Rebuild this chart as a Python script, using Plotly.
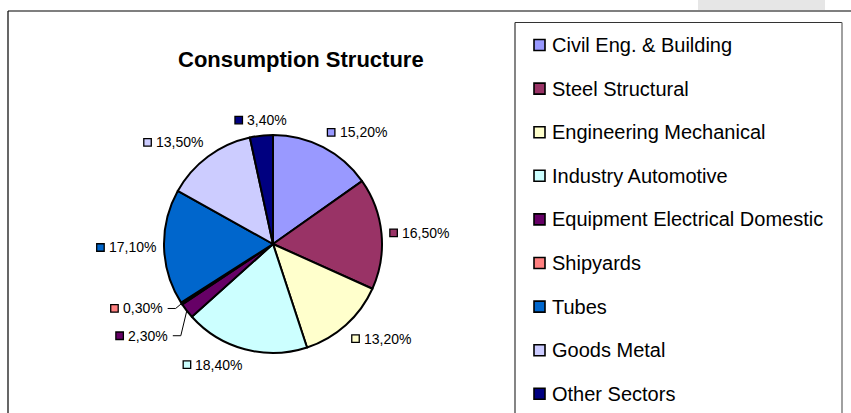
import math
import plotly.graph_objects as go

# ---------------- data ----------------
categories = [
    "Civil Eng. & Building",
    "Steel Structural",
    "Engineering Mechanical",
    "Industry Automotive",
    "Equipment Electrical Domestic",
    "Shipyards",
    "Tubes",
    "Goods Metal",
    "Other Sectors",
]
shares = [15.2, 16.5, 13.2, 18.4, 2.3, 0.3, 17.1, 13.5, 3.4]
title_text = "Consumption Structure"

# ---------------- style ----------------
colors = ["#9999FF", "#993366", "#FFFFCC", "#CCFFFF", "#660066",
          "#FF8080", "#0066CC", "#CCCCFF", "#000080"]
W, H = 851, 413
CX, CY, R = 273, 244, 109          # pie centre / radius in px
FONT = "Liberation Sans, Arial, sans-serif"
LBL_SIZE = 14
LEG_SIZE = 20
SQ, GAP = 9, 4
LABEL_R = R * 1.07
# labels that Excel pushed away and joined by leader lines (dx, dy from slice edge)
leader_offsets = {"Equipment Electrical Domestic": (-19, 25), "Shipyards": (-19, 5)}
LEG_Y0, LEG_STEP, LEG_SQ_X, LEG_TX = 45, 43.6, 539.5, 550

CHAR_W = {c: 0.556 for c in "0123456789"}
CHAR_W.update({",": 0.278, "%": 0.889})


def text_width(s, size):
    return sum(CHAR_W.get(ch, 0.556) for ch in s) * size


label_text = [f"{v:.2f}".replace(".", ",") + "%" for v in shares]

fig = go.Figure()

fig.add_trace(go.Pie(
    labels=categories,
    values=shares,
    sort=False,
    direction="clockwise",
    rotation=0,
    textinfo="none",
    hoverinfo="label+percent",
    marker=dict(colors=colors, line=dict(color="black", width=2)),
    domain=dict(x=[(CX - R) / W, (CX + R) / W],
                y=[1 - (CY + R) / H, 1 - (CY - R) / H]),
    showlegend=False,
))

# ---------------- data labels ----------------
total = sum(shares)
cum = 0.0
sq_x, sq_y, sq_c = [], [], []
annotations = []
shapes = []
for cat, v, txt, col in zip(categories, shares, label_text, colors):
    frac = (cum + v / 2) / total
    cum += v
    ang = 2 * math.pi * frac
    s, c = math.sin(ang), math.cos(ang)
    wt = text_width(txt, LBL_SIZE)
    gw = SQ + GAP + wt
    if cat in leader_offsets:
        ex, ey = CX + R * s, CY - R * c
        dx, dy = leader_offsets[cat]
        tend = ex + dx
        y = ey + dy
        left = tend - wt - GAP - SQ
        shapes.append(dict(type="path", xref="x", yref="y",
                           path=f"M {tend + 5},{y} L {tend + 13},{y} L {ex},{ey}",
                           line=dict(color="black", width=1)))
    else:
        ax, ay = CX + LABEL_R * s, CY - LABEL_R * c
        if s > 0.2:
            left = ax
        elif s < -0.2:
            left = ax - gw
        else:
            left = ax - gw / 2
        if c > 0.5:
            y = ay - 8
        elif c < -0.5:
            y = ay + 8
        else:
            y = ay
    sq_x.append(left + SQ / 2)
    sq_y.append(y)
    sq_c.append(col)
    annotations.append(dict(x=left + SQ + GAP - 2, y=y, xref="x", yref="y",
                            text=txt, showarrow=False, xanchor="left", yanchor="middle",
                            font=dict(family=FONT, size=LBL_SIZE, color="black")))

fig.add_trace(go.Scatter(
    x=sq_x, y=sq_y, mode="markers", hoverinfo="skip", showlegend=False,
    cliponaxis=False,
    marker=dict(symbol="square", size=7.5, color=sq_c, line=dict(color="black", width=1.3)),
))

# ---------------- legend (Excel style) ----------------
leg_y = [LEG_Y0 + i * LEG_STEP for i in range(len(categories))]
fig.add_trace(go.Scatter(
    x=[LEG_SQ_X] * len(categories), y=leg_y, mode="markers", hoverinfo="skip",
    showlegend=False, cliponaxis=False,
    marker=dict(symbol="square", size=11, color=colors, line=dict(color="black", width=1.6)),
))
for cat, yy in zip(categories, leg_y):
    annotations.append(dict(x=LEG_TX, y=yy, xref="x", yref="y", text=cat,
                            showarrow=False, xanchor="left", yanchor="middle",
                            font=dict(family=FONT, size=LEG_SIZE, color="black")))

# title
annotations.append(dict(x=301, y=59, xref="x", yref="y", text=f"<b>{title_text}</b>",
                        showarrow=False, xanchor="center", yanchor="middle",
                        font=dict(family=FONT, size=22, color="black")))

# frame / legend box
shapes += [
    dict(type="rect", xref="x", yref="y", x0=698, x1=825, y0=0, y1=10,
         fillcolor="#e6e6e6", line=dict(width=0), layer="below"),
    dict(type="line", xref="x", yref="y", x0=8, x1=851, y0=11, y1=11,
         line=dict(color="black", width=1.2)),
    dict(type="line", xref="x", yref="y", x0=8, x1=8, y0=11, y1=413,
         line=dict(color="black", width=1.2)),
    dict(type="line", xref="x", yref="y", x0=515, x1=842, y0=22.5, y1=22.5,
         line=dict(color="#333333", width=1.2)),
    dict(type="line", xref="x", yref="y", x0=515, x1=515, y0=22.5, y1=413,
         line=dict(color="#333333", width=1.2)),
    dict(type="line", xref="x", yref="y", x0=842, x1=842, y0=22.5, y1=413,
         line=dict(color="#808080", width=1.5)),
]

fig.update_layout(
    width=W, height=H,
    margin=dict(l=0, r=0, t=0, b=0),
    paper_bgcolor="white", plot_bgcolor="rgba(0,0,0,0)",
    xaxis=dict(range=[0, W], visible=False, fixedrange=True, domain=[0, 1]),
    yaxis=dict(range=[H, 0], visible=False, fixedrange=True, domain=[0, 1]),
    annotations=annotations,
    shapes=shapes,
    showlegend=False,
)

fig.write_html("out.html", config={"displayModeBar": False},
               post_script="document.body.style.margin='0';")
